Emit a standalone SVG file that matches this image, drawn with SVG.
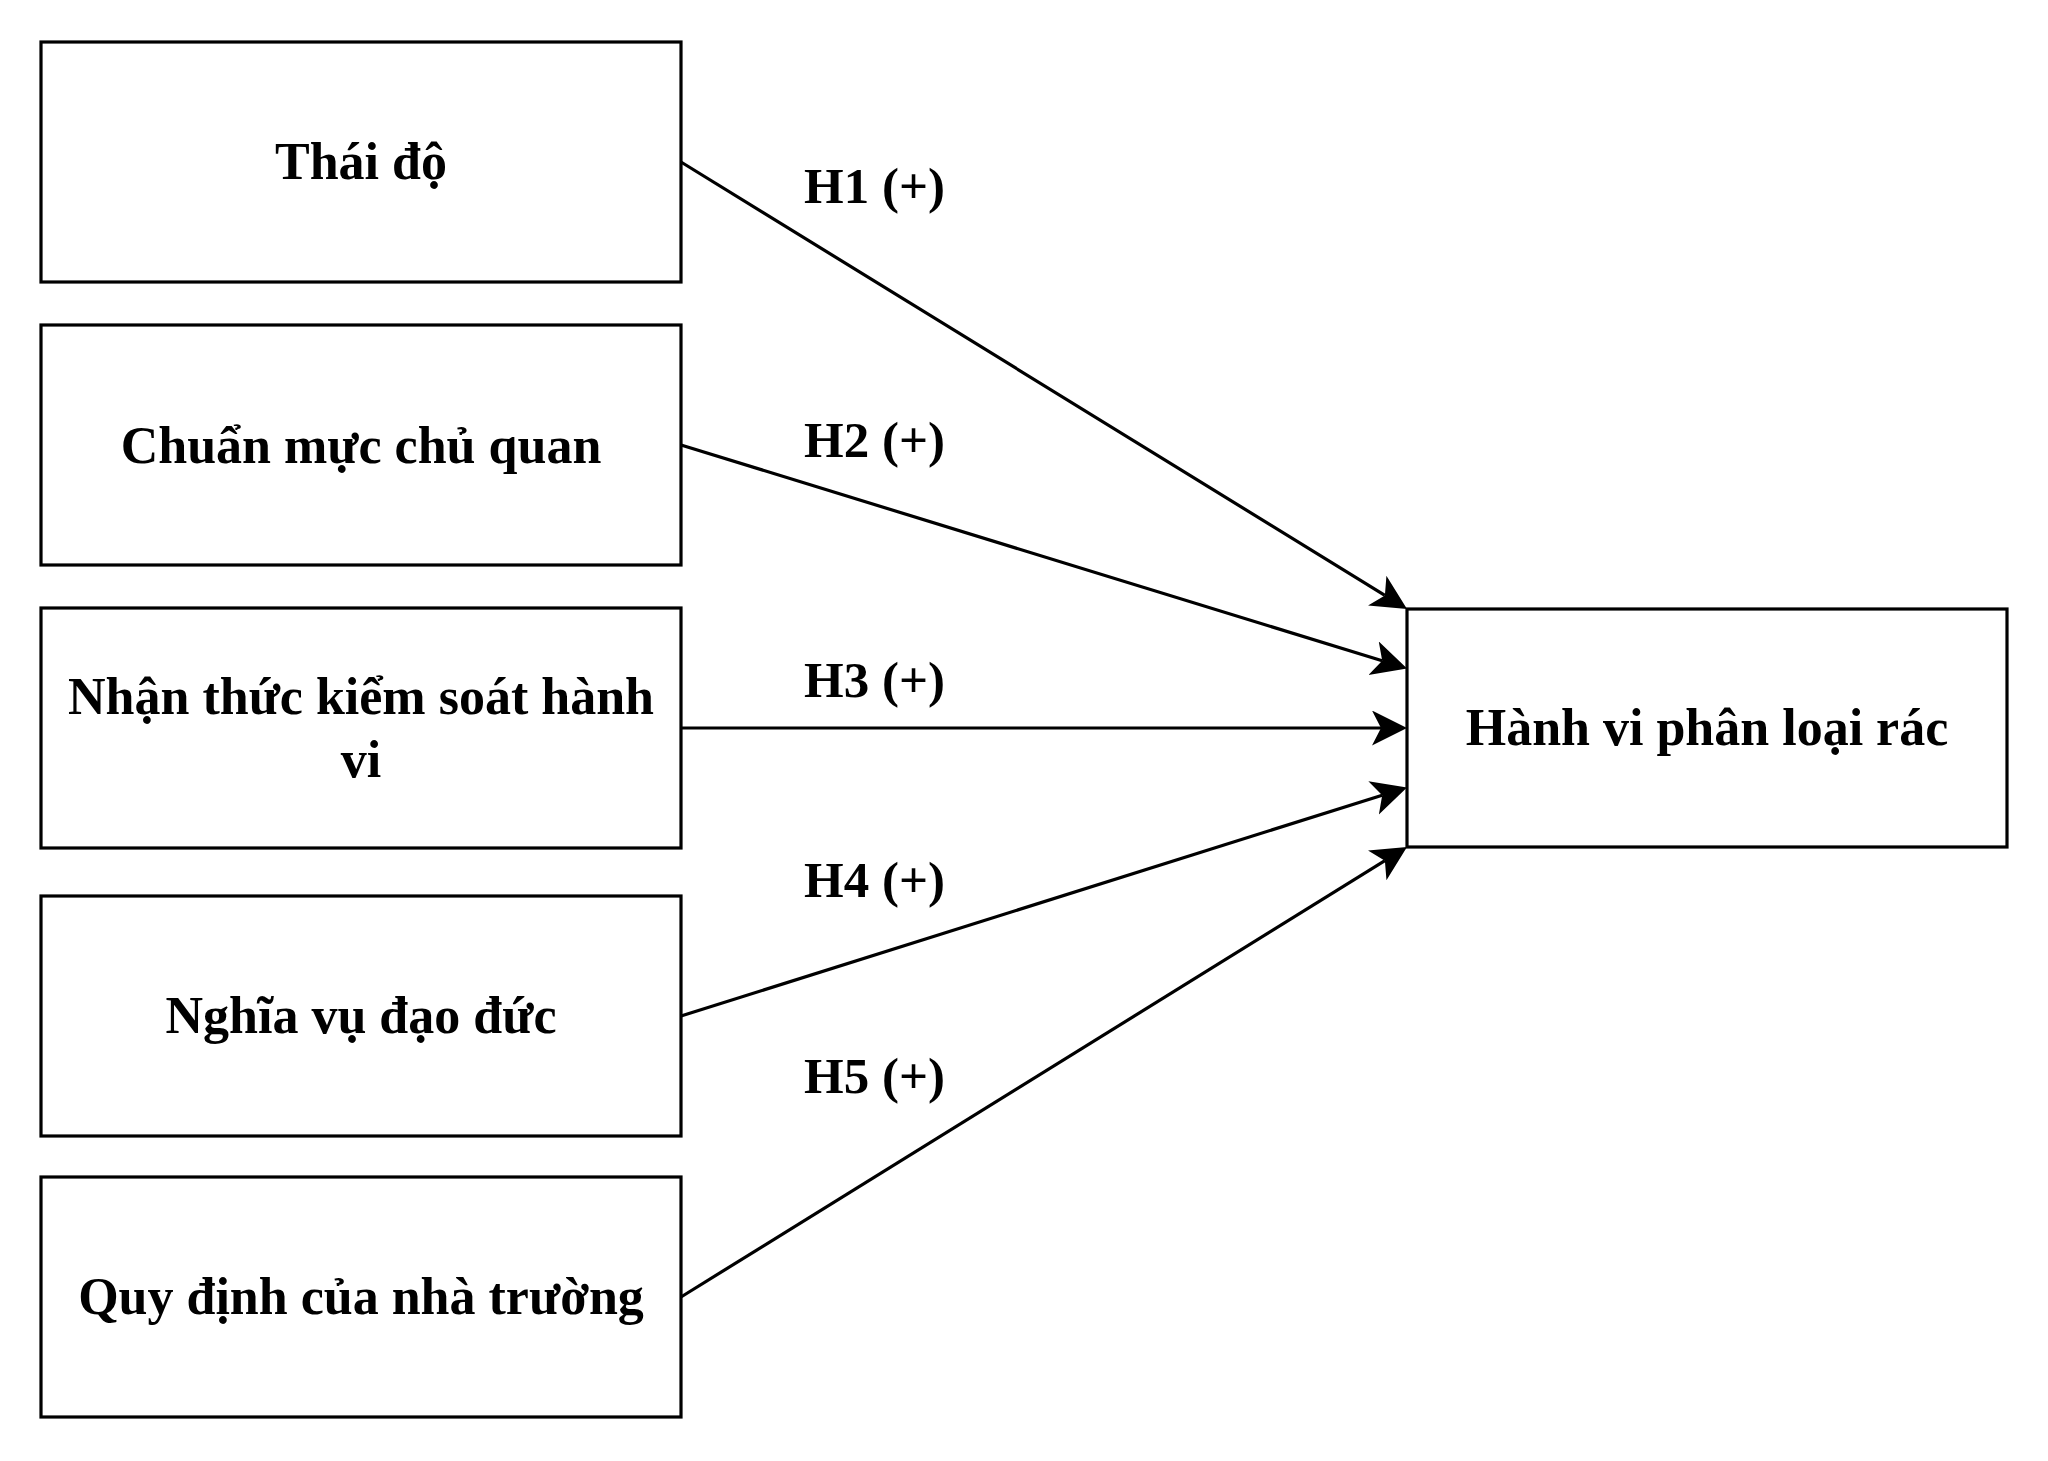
<svg xmlns="http://www.w3.org/2000/svg" width="2048" height="1461" viewBox="0 0 2048 1461">
  <style>
    .box { fill: #ffffff; stroke: #000000; stroke-width: 3.2; }
    .lbl { font-family: "Liberation Serif", "Times New Roman", serif; font-weight: bold; font-size: 52px; fill: #000000; text-anchor: middle; }
    .hyp { font-family: "Liberation Serif", "Times New Roman", serif; font-weight: bold; font-size: 51px; fill: #000000; }
    .edge { fill: none; stroke: #000000; stroke-width: 3.2; marker-end: url(#arrow); }
  </style>
  <defs>
    <marker id="arrow" markerUnits="userSpaceOnUse" viewBox="0 0 36 36" markerWidth="36" markerHeight="36" refX="9" refY="17.5" orient="auto">
      <path d="M35,17.5 L0,0 L9,17.5 L0,35 Z" fill="#000000"/>
    </marker>
  </defs>
  <rect width="2048" height="1461" fill="#ffffff"/>

  <g id="connectors">
    <line class="edge" x1="681" y1="162" x2="1384.9" y2="595.4"/>
    <line class="edge" x1="681" y1="445" x2="1382.2" y2="660.8"/>
    <line class="edge" x1="681" y1="728" x2="1381" y2="728"/>
    <line class="edge" x1="681" y1="1016" x2="1382.2" y2="795.2"/>
    <line class="edge" x1="681" y1="1297" x2="1384.9" y2="860.7"/>
    <text class="hyp" x="804" y="203">H1 (+)</text>
    <text class="hyp" x="804" y="457">H2 (+)</text>
    <text class="hyp" x="804" y="697">H3 (+)</text>
    <text class="hyp" x="804" y="897">H4 (+)</text>
    <text class="hyp" x="804" y="1093">H5 (+)</text>
  </g>

  <g id="node-thai-do">
    <rect class="box" x="41" y="42" width="640" height="240"/>
    <text class="lbl" x="361" y="179">Thái độ</text>
  </g>
  <g id="node-chuan-muc">
    <rect class="box" x="41" y="325" width="640" height="240"/>
    <text class="lbl" x="361" y="463">Chuẩn mực chủ quan</text>
  </g>
  <g id="node-nhan-thuc">
    <rect class="box" x="41" y="608" width="640" height="240"/>
    <text class="lbl" x="361" y="714">Nhận thức kiểm soát hành</text>
    <text class="lbl" x="361" y="777">vi</text>
  </g>
  <g id="node-nghia-vu">
    <rect class="box" x="41" y="896" width="640" height="240"/>
    <text class="lbl" x="361" y="1033">Nghĩa vụ đạo đức</text>
  </g>
  <g id="node-quy-dinh">
    <rect class="box" x="41" y="1177" width="640" height="240"/>
    <text class="lbl" x="361" y="1314">Quy định của nhà trường</text>
  </g>
  <g id="node-hanh-vi">
    <rect class="box" x="1407" y="609" width="600" height="238"/>
    <text class="lbl" x="1707" y="745">Hành vi phân loại rác</text>
  </g>
</svg>
